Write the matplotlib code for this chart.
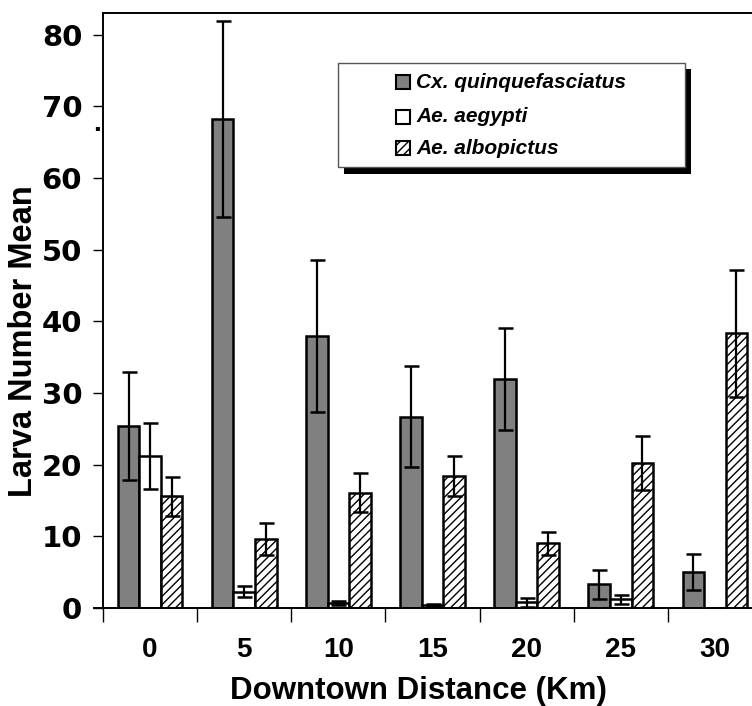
import matplotlib
matplotlib.use('Agg')
import matplotlib.pyplot as plt
from matplotlib.patches import Rectangle
import numpy as np

# distance from downtown (km) and larva means with their errors
distances = ['0', '5', '10', '15', '20', '25', '30']
species = ['Cx. quinquefasciatus', 'Ae. aegypti', 'Ae. albopictus']
cx_mean = [25.4, 68.2, 38.0, 26.7, 32.0, 3.3, 5.0]
cx_err = [7.5, 13.7, 10.6, 7.0, 7.1, 2.0, 2.5]
aeg_mean = [21.2, 2.3, 0.7, 0.4, 0.8, 1.2, 0.05]
aeg_err = [4.6, 0.75, 0.3, 0.1, 0.6, 0.6, 0.0]
alb_mean = [15.6, 9.6, 16.1, 18.4, 9.0, 20.2, 38.3]
alb_err = [2.7, 2.2, 2.7, 2.8, 1.6, 3.8, 8.8]

plt.rcParams['font.family'] = ['Liberation Sans', 'DejaVu Sans']
plt.rcParams['font.weight'] = 'bold'
plt.rcParams['hatch.linewidth'] = 1.0

W, H = 752, 706
fig = plt.figure(figsize=(W / 100, H / 100), dpi=100)
ax = fig.add_axes([103 / W, 1 - 608 / H, 659 / W, 595 / H])

x = np.arange(len(distances))
bw = 0.229
styles = [dict(color='#808080', hatch=None),
          dict(color='white', hatch=None),
          dict(color='white', hatch='////')]
series = [(cx_mean, cx_err), (aeg_mean, aeg_err), (alb_mean, alb_err)]

for i, ((m, e), st) in enumerate(zip(series, styles)):
    pos = x + (i - 1) * bw
    ax.bar(pos, m, width=bw, color=st['color'], hatch=st['hatch'],
           edgecolor='black', linewidth=1.8, zorder=2)
    ax.errorbar(pos, m, yerr=e, fmt='none', ecolor='black', elinewidth=1.6,
                capsize=5.4, capthick=1.8, zorder=3)

# axis formatting
ax.set_xlim(-0.5, 6.5)
ax.set_ylim(0, 83.0)
ax.set_yticks(range(0, 81, 10))
ax.set_xticks(x)
ax.set_xticklabels(distances)
ax.set_xticks(np.arange(-0.5, 7, 1), minor=True)
ax.tick_params(axis='x', which='major', length=0, pad=21, labelsize=20)
ax.tick_params(axis='x', which='minor', length=10, width=1.0, direction='out')
ax.tick_params(axis='y', length=7, width=1.0, direction='out', pad=8,
               labelsize=21)
for lbl in ax.get_yticklabels():
    lbl.set_family('DejaVu Sans')
for s in ['left', 'top', 'bottom']:
    ax.spines[s].set_linewidth(1.4)
ax.spines['right'].set_visible(False)
ax.plot([-0.6, -0.5], [0, 0], color='black', lw=1.4, clip_on=False)

ax.set_xlabel('Downtown Distance (Km)', fontsize=22.5, fontweight='bold',
              va='top')
ax.xaxis.set_label_coords(0.478, -0.114)
ax.set_ylabel('Larva Number Mean', fontsize=23.5, fontweight='bold',
              va='center')
ax.yaxis.set_label_coords(-0.121, 0.449)

# stray dot next to the y tick labels
fig.text(97 / W, 1 - 131 / H, '.', fontsize=20, fontweight='bold',
         ha='center', va='baseline')


def fx(px):
    return px / W


def fy(py):
    return 1 - py / H


# legend box with a hard black shadow
fig.patches.append(Rectangle((fx(344), fy(174)), fx(691) - fx(344),
                             fy(69) - fy(174), transform=fig.transFigure,
                             facecolor='black', edgecolor='none', zorder=5))
fig.patches.append(Rectangle((fx(338), fy(167)), fx(685) - fx(338),
                             fy(63) - fy(167), transform=fig.transFigure,
                             facecolor='white', edgecolor='#555555',
                             linewidth=1.0, zorder=6))
rows = [82, 117, 148]
for lab, st, ry in zip(species, styles, rows):
    fig.patches.append(Rectangle((fx(396), fy(ry + 7)), fx(14), 14 / H,
                                 transform=fig.transFigure,
                                 facecolor=st['color'], hatch=st['hatch'],
                                 edgecolor='black', linewidth=1.5, zorder=7))
    fig.text(fx(416), fy(ry), lab, fontsize=15, fontweight='bold',
             fontstyle='italic', va='center', ha='left', zorder=8)

fig.savefig('out.png', dpi=100)
